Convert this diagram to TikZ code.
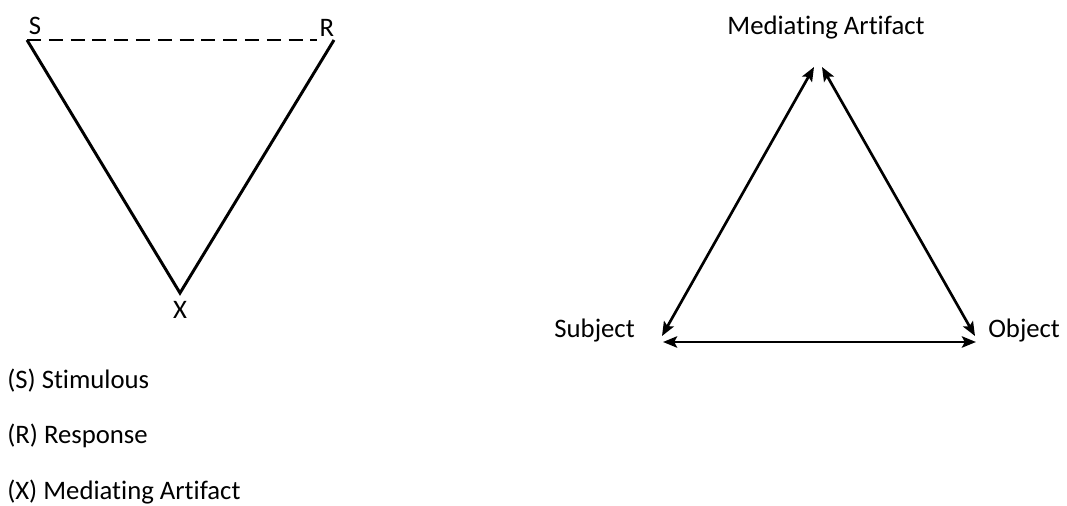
\documentclass[tikz,border=0pt]{standalone}
\usepackage{fontspec}
\setmainfont{Carlito}[Ligatures=NoCommon]
\usetikzlibrary{arrows.meta, positioning}

\begin{document}
\begin{tikzpicture}[x=0.025cm, y=-0.025cm,
  lbl/.style={font=\fontsize{19}{22}\selectfont, inner sep=0pt},
  edge/.style={line width=2.1pt},
  dbl/.style={line width=1.9pt, {Stealth[length=10pt,width=8pt,inset=2pt]}-{Stealth[length=10pt,width=8pt,inset=2pt]}}]
\useasboundingbox (0,0) rectangle (1067,506);

% S-R triangle with mediating artifact
\coordinate (S) at (27,40);
\coordinate (R) at (334,40);
\coordinate (X) at (180,293);
\node[lbl] (Slbl) at (35,26) {S};
\node[lbl] (Rlbl) at (327,28) {R};
\node[lbl] (Xlbl) at (180,310) {X};
\draw[edge, dash pattern=on 10pt off 5.5pt] (S) -- ([xshift=-12]R);
\draw[edge] (S) -- (X) -- (R);

% legend
\node[lbl, anchor=west] (leg1) at (7,381) {(S) Stimulous};
\node[lbl, anchor=west] (leg2) at (7,436) {(R) Response};
\node[lbl, anchor=west] (leg3) at (7,492) {(X) Mediating Artifact};

% activity triangle
\node[lbl] (med) at (826,28) {Mediating Artifact};
\node[lbl, anchor=east] (subj) at (635,331) {Subject};
\node[lbl, anchor=west] (obj) at (988,331) {Object};
\coordinate (medL) at (814,67);
\coordinate (medR) at (822,67);
\coordinate (subjT) at (662,336);
\coordinate (objT) at (975,336);
\coordinate (subjB) at (663,342);
\coordinate (objB) at (976,342);
\draw[dbl] (subjT) -- (medL);
\draw[dbl] (medR) -- (objT);
\draw[dbl] (subjB) -- (objB);
\end{tikzpicture}
\end{document}
